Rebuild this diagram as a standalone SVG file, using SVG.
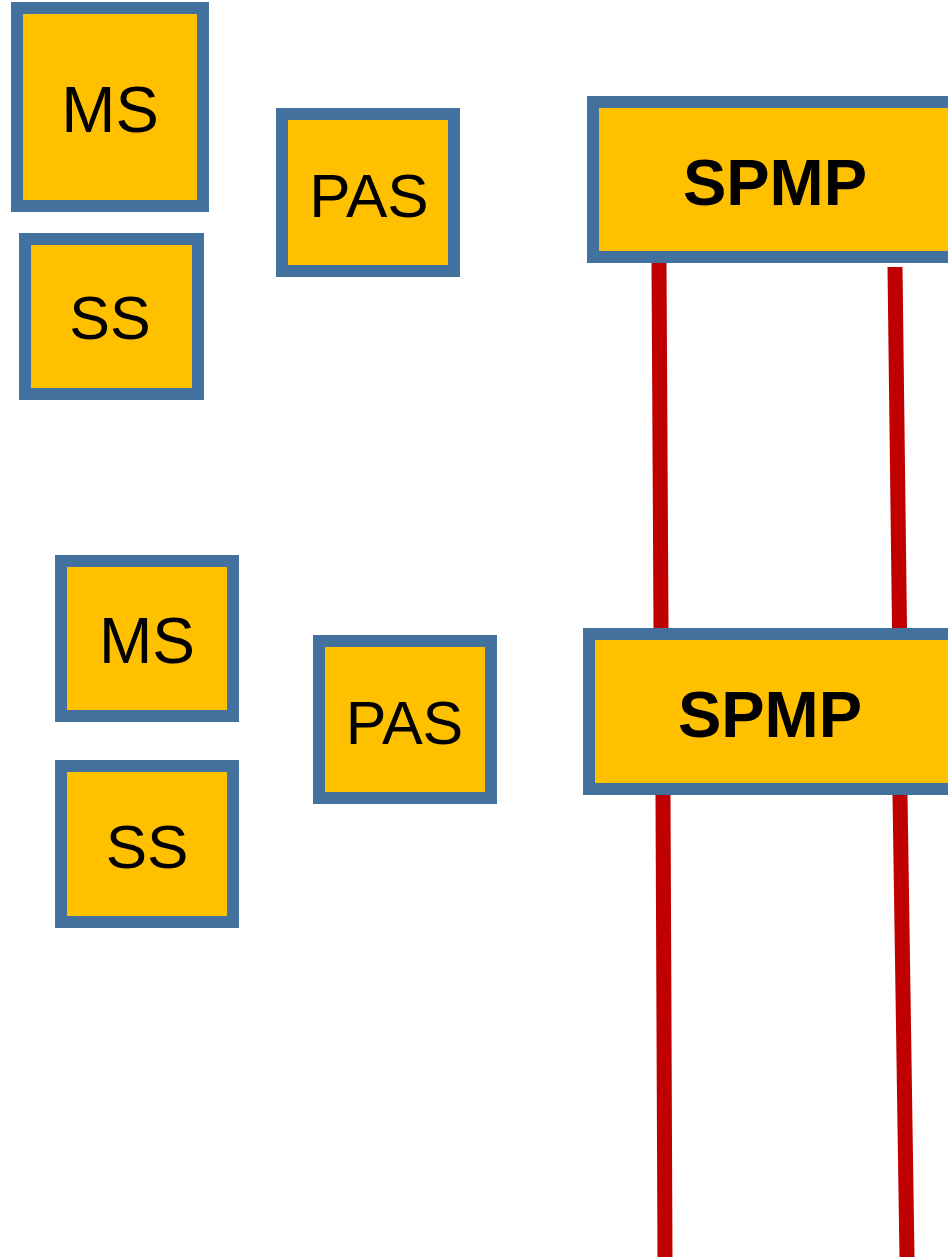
<svg xmlns="http://www.w3.org/2000/svg" width="948" height="1257" viewBox="0 0 948 1257">
<style>
.box{fill:#FFC000;stroke:#41719C;stroke-width:12}
.lbl{font-family:"Liberation Sans",Arial,sans-serif;fill:#000;text-anchor:middle}
.big{font-weight:bold;font-size:65px}
.link{stroke:#C00000;stroke-width:15;fill:none}
</style>
<rect width="948" height="1257" fill="#fff"/>
<g id="connectors">
<line class="link" x1="659" y1="263" x2="661" y2="628"/>
<line class="link" x1="895" y1="267" x2="899.5" y2="628"/>
<line class="link" x1="663" y1="795" x2="665" y2="1257"/>
<line class="link" x1="900" y1="795" x2="907" y2="1257"/>
</g>
<g id="ms1"><rect class="box" x="17" y="8" width="186" height="198"/><text class="lbl" x="110" y="132" font-size="65">MS</text></g>
<g id="ss1"><rect class="box" x="25" y="239" width="173" height="155"/><text class="lbl" x="110" y="339" font-size="61">SS</text></g>
<g id="pas1"><rect class="box" x="282" y="114" width="172" height="157"/><text class="lbl" x="369" y="217" font-size="62">PAS</text></g>
<g id="spmp1"><rect class="box" x="593" y="102" width="400" height="155"/><text class="lbl big" x="775" y="205">SPMP</text></g>
<g id="ms2"><rect class="box" x="61" y="561" width="172" height="155"/><text class="lbl" x="147" y="663" font-size="64">MS</text></g>
<g id="ss2"><rect class="box" x="61" y="766" width="172" height="156"/><text class="lbl" x="147" y="868" font-size="62">SS</text></g>
<g id="pas2"><rect class="box" x="319" y="641" width="172" height="157"/><text class="lbl" x="404.5" y="744" font-size="61">PAS</text></g>
<g id="spmp2"><rect class="box" x="589" y="634" width="400" height="155"/><text class="lbl big" x="770" y="737">SPMP</text></g>
</svg>
